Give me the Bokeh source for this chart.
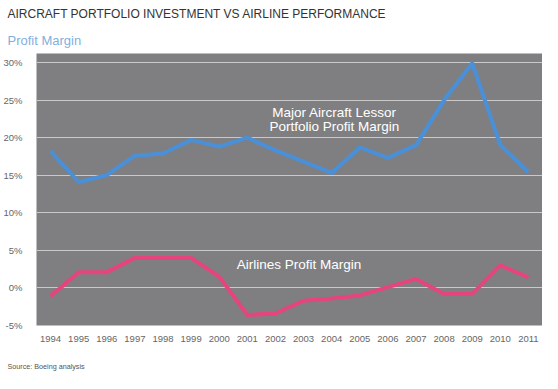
from bokeh.plotting import figure
from bokeh.models import Label, FixedTicker, PrintfTickFormatter, Range1d, Title
from bokeh.embed import file_html
from bokeh.resources import INLINE

years = list(range(1994, 2012))
lessor_margin = [18.2, 14.1, 15.0, 17.6, 17.9, 19.7, 18.8, 20.0, 18.3, 16.8,
                 15.3, 18.7, 17.3, 19.0, 25.0, 29.9, 19.0, 15.4]
airline_margin = [-1.1, 2.1, 2.1, 4.0, 4.0, 4.0, 1.5, -3.6, -3.4, -1.7,
                  -1.4, -1.0, 0.1, 1.2, -0.8, -0.8, 3.0, 1.4]
y_ticks = [-5, 0, 5, 10, 15, 20, 25, 30]

title_text = "AIRCRAFT PORTFOLIO INVESTMENT VS AIRLINE PERFORMANCE"
subtitle_text = "Profit Margin"
source_text = "Source: Boeing analysis"
lessor_label = ["Major Aircraft Lessor", "Portfolio Profit Margin"]
airline_label = "Airlines Profit Margin"

FONT = "Liberation Sans"

p = figure(width=542, height=386, output_backend="svg", toolbar_location=None,
           x_range=Range1d(1993.5, 2011.5), y_range=Range1d(-5, 31.2),
           min_border_left=29, min_border_right=0, min_border_top=53,
           min_border_bottom=61, title=None)
p.background_fill_color = "#7f7f81"
p.border_fill_color = "white"
p.outline_line_color = None

p.xgrid.grid_line_color = None
p.ygrid.grid_line_color = "#c9c9c9"
p.ygrid.grid_line_width = 1
p.ygrid.ticker = FixedTicker(ticks=y_ticks)

p.xaxis.ticker = FixedTicker(ticks=years)
p.yaxis.ticker = FixedTicker(ticks=y_ticks)
p.yaxis.formatter = PrintfTickFormatter(format="%d%%")
for ax in (p.xaxis, p.yaxis):
    ax.axis_line_color = None
    ax.major_tick_line_color = None
    ax.minor_tick_line_color = None
    ax.major_label_text_font = FONT
    ax.major_label_text_font_size = "9.5px"
    ax.major_label_text_color = "#666666"
p.xaxis.major_label_standoff = 4
p.yaxis.major_label_standoff = 8

p.line(years, lessor_margin, line_color="#4a90d9", line_width=4, line_join="round")
p.line(years, airline_margin, line_color="#e5457c", line_width=4, line_join="round")

p.add_layout(Label(x=2004.1, y=23.4, text=lessor_label[0], text_align="center",
                   text_baseline="middle", text_color="white", text_font=FONT,
                   text_font_size="13.5px"))
p.add_layout(Label(x=2004.1, y=21.55, text=lessor_label[1], text_align="center",
                   text_baseline="middle", text_color="white", text_font=FONT,
                   text_font_size="13.5px"))
p.add_layout(Label(x=2000.62, y=3.06, text=airline_label, text_align="left",
                   text_baseline="middle", text_color="white", text_font=FONT,
                   text_font_size="13.5px"))

p.add_layout(Title(text=subtitle_text, align="left", offset=-29, standoff=12,
                   text_color="#7fb0de", text_font=FONT, text_font_size="13px",
                   text_font_style="normal"), "above")
p.add_layout(Title(text=title_text, align="left", offset=-29, standoff=8,
                   text_color="#333333", text_font=FONT, text_font_size="12px",
                   text_font_style="normal"), "above")
p.add_layout(Title(text=source_text, align="left", offset=-29, standoff=31,
                   text_color="#555555", text_font=FONT, text_font_size="7.2px",
                   text_font_style="normal"), "below")

open("out.html", "w").write(file_html(p, INLINE))
